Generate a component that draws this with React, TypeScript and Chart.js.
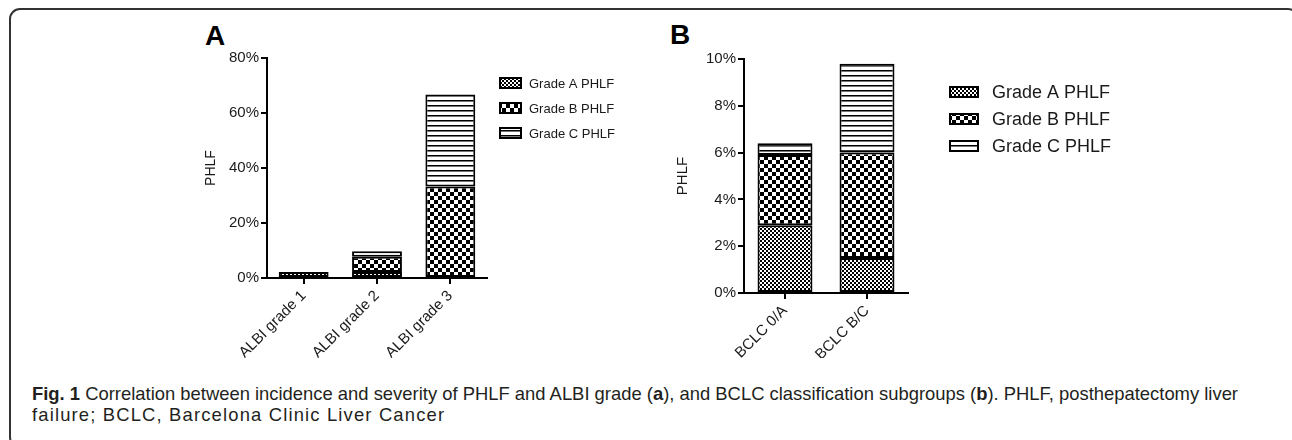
import React, { useEffect, useLayoutEffect, useRef } from "react";
import { Chart, registerables } from "chart.js";

Chart.register(...registerables);

// ---------- data ----------
const albiCategories = ["ALBI grade 1", "ALBI grade 2", "ALBI grade 3"];
const albiGradeA = [2.2, 2.2, null];
const albiGradeB = [null, 5.5, 33.3];
const albiGradeC = [null, 2.0, 33.4];
const albiTicks = [0, 20, 40, 60, 80];

const bclcCategories = ["BCLC 0/A", "BCLC B/C"];
const bclcGradeA = [2.9, 1.5];
const bclcGradeB = [3.0, 4.5];
const bclcGradeC = [0.5, 3.8];
const bclcTicks = [0, 2, 4, 6, 8, 10];

const seriesLabels = ["Grade A PHLF", "Grade B PHLF", "Grade C PHLF"];

const FONT = "'Liberation Sans', Arial, sans-serif";

function makePattern(kind: "A" | "B" | "C"): CanvasPattern | string {
  const c = document.createElement("canvas");
  const ctx = c.getContext("2d");
  if (!ctx) return "#888";
  if (kind === "A") {
    c.width = 4; c.height = 4;
    ctx.fillStyle = "#fff"; ctx.fillRect(0, 0, 4, 4);
    ctx.fillStyle = "#000";
    ctx.fillRect(0, 0, 2, 2); ctx.fillRect(2, 2, 2, 2);
  } else if (kind === "B") {
    c.width = 8; c.height = 8;
    ctx.fillStyle = "#fff"; ctx.fillRect(0, 0, 8, 8);
    ctx.fillStyle = "#000";
    ctx.fillRect(0, 0, 4, 4); ctx.fillRect(4, 4, 4, 4);
  } else {
    c.width = 4; c.height = 5;
    ctx.fillStyle = "#fff"; ctx.fillRect(0, 0, 4, 5);
    ctx.fillStyle = "#000"; ctx.fillRect(0, 0, 4, 1);
    ctx.fillStyle = "#777"; ctx.fillRect(0, 1, 4, 1);
  }
  return ctx.createPattern(c, "repeat") as CanvasPattern;
}

const sideLegend = {
  id: "sideLegend",
  afterDraw(chart: any, _a: any, opts: any) {
    const ctx = chart.ctx as CanvasRenderingContext2D;
    const x0 = chart.chartArea.right + opts.offsetX;
    chart.data.datasets.forEach((ds: any, i: number) => {
      const y = opts.top + i * opts.spacing;
      ctx.save();
      ctx.fillStyle = ds.backgroundColor;
      ctx.fillRect(x0, y - opts.boxH / 2, opts.boxW, opts.boxH);
      ctx.lineWidth = 2;
      ctx.strokeStyle = "#000";
      ctx.strokeRect(x0, y - opts.boxH / 2, opts.boxW, opts.boxH);
      ctx.fillStyle = "#1a1a1a";
      ctx.font = `${opts.fontSize}px ${FONT}`;
      ctx.textBaseline = "middle";
      ctx.textAlign = "left";
      ctx.fillText(ds.label, x0 + opts.boxW + opts.textGap, y + 1);
      ctx.restore();
    });
  },
};

interface PanelProps {
  categories: string[];
  a: (number | null)[]; b: (number | null)[]; c: (number | null)[];
  ticks: number[];
  width: number; height: number;
  padLeft: number; padTop: number; padRight: number; padBottom: number;
  yWidth: number; xHeight: number;
  barPct: number;
  titleSize: number; tickSize: number;
  legend: any;
}

function Panel(p: PanelProps) {
  const ref = useRef<HTMLCanvasElement>(null);
  useEffect(() => {
    if (!ref.current) return;
    const pats = [makePattern("A"), makePattern("B"), makePattern("C")];
    const vals = [p.a, p.b, p.c];
    const chart = new Chart(ref.current, {
      type: "bar",
      data: {
        labels: p.categories,
        datasets: vals.map((v, i) => ({
          label: seriesLabels[i],
          data: v as any,
          backgroundColor: pats[i] as any,
          borderColor: "#000",
          borderWidth: 2,
          borderSkipped: false,
          barPercentage: p.barPct,
          categoryPercentage: 1,
        })),
      },
      options: {
        animation: false,
        responsive: false,
        maintainAspectRatio: false,
        layout: { padding: { left: p.padLeft, top: p.padTop, right: p.padRight, bottom: p.padBottom } },
        plugins: {
          legend: { display: false },
          tooltip: { enabled: false },
          sideLegend: p.legend,
        } as any,
        scales: {
          x: {
            stacked: true,
            afterFit: (s: any) => { s.height = p.xHeight; },
            grid: { display: true, drawOnChartArea: false, offset: false, color: "#000", lineWidth: 2, tickLength: 6 },
            border: { display: true, color: "#000", width: 2 },
            ticks: {
              autoSkip: false, minRotation: 45, maxRotation: 45, padding: 3,
              color: "#1a1a1a", font: { family: FONT, size: p.tickSize },
            },
          },
          y: {
            stacked: true,
            min: p.ticks[0],
            max: p.ticks[p.ticks.length - 1],
            afterFit: (s: any) => { s.width = p.yWidth; },
            afterBuildTicks: (s: any) => { s.ticks = p.ticks.map((v) => ({ value: v })); },
            grid: { display: true, drawOnChartArea: false, color: "#000", lineWidth: 2, tickLength: 6 },
            border: { display: true, color: "#000", width: 2 },
            ticks: {
              padding: 2, color: "#1a1a1a",
              font: { family: FONT, size: p.tickSize },
              callback: (v: any) => `${v}%`,
            },
            title: { display: true, text: "PHLF", color: "#1a1a1a", font: { family: FONT, size: p.titleSize } },
          },
        },
      },
      plugins: [sideLegend],
    });
    return () => chart.destroy();
  }, []);
  return <canvas ref={ref} width={p.width} height={p.height} style={{ width: p.width, height: p.height, display: "block" }} />;
}

function Caption() {
  const l1 = useRef<HTMLSpanElement>(null);
  const l2 = useRef<HTMLSpanElement>(null);
  useLayoutEffect(() => {
    if (!l1.current || !l2.current) return;
    const s = 1206 / l1.current.getBoundingClientRect().width;
    l1.current.style.transform = `scaleX(${s})`;
    l2.current.style.transform = `scaleX(${s})`;
  }, []);
  const line: React.CSSProperties = { display: "inline-block", whiteSpace: "nowrap", transformOrigin: "0 0" };
  return (
    <div style={{ position: "absolute", left: 32, top: 383, font: `19px ${FONT}`, lineHeight: "21px", color: "#231f20" }}>
      <span ref={l1} style={line}><b>Fig. 1</b> Correlation between incidence and severity of PHLF and ALBI grade (<b>a</b>), and BCLC classification subgroups (<b>b</b>). PHLF, posthepatectomy liver</span>
      <br />
      <span ref={l2} style={{ ...line, letterSpacing: "1.2px" }}>failure; BCLC, Barcelona Clinic Liver Cancer</span>
    </div>
  );
}

export default function App() {
  return (
    <div style={{ position: "fixed", left: 0, top: 0, width: 1292, height: 440, background: "#fff", overflow: "hidden" }}>
      <div style={{ position: "absolute", left: 9, top: 8, width: 1290, height: 440, border: "2px solid #333", borderRadius: 11, boxSizing: "border-box" }} />
      <div style={{ position: "absolute", left: 205, top: 20, font: `bold 28px ${FONT}`, color: "#000" }}>A</div>
      <div style={{ position: "absolute", left: 670, top: 19, font: `bold 28px ${FONT}`, color: "#000" }}>B</div>
      <div style={{ position: "absolute", left: 190, top: 20 }}>
        <Panel categories={albiCategories} a={albiGradeA} b={albiGradeB} c={albiGradeC} ticks={albiTicks}
          width={450} height={345} padLeft={9} padTop={38} padRight={153} padBottom={7}
          yWidth={68} xHeight={80} barPct={0.68} titleSize={14} tickSize={15}
          legend={{ offsetX: 13, top: 63, spacing: 25, boxW: 21, boxH: 10, textGap: 8, fontSize: 13 }} />
      </div>
      <div style={{ position: "absolute", left: 660, top: 20 }}>
        <Panel categories={bclcCategories} a={bclcGradeA} b={bclcGradeB} c={bclcGradeC} ticks={bclcTicks}
          width={500} height={345} padLeft={10} padTop={39} padRight={252} padBottom={7}
          yWidth={74} xHeight={65} barPct={0.67} titleSize={15} tickSize={15}
          legend={{ offsetX: 42, top: 72, spacing: 27, boxW: 28, boxH: 10, textGap: 14, fontSize: 18 }} />
      </div>
      <Caption />
    </div>
  );
}
